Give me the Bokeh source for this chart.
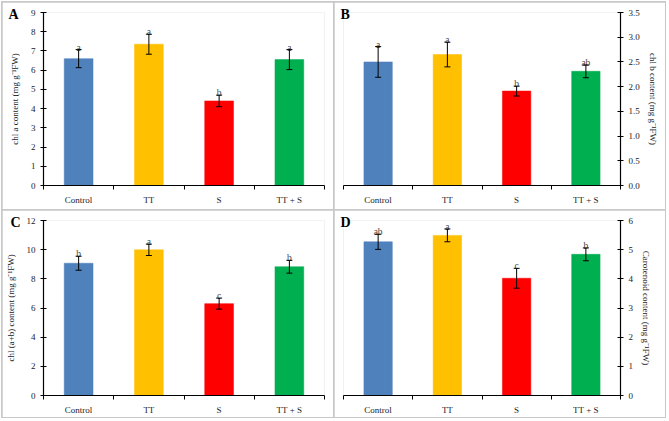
import numpy as np
from bokeh.plotting import figure
from bokeh.layouts import gridplot
from bokeh.models import (Range1d, FixedTicker, Whisker, TeeHead, ColumnDataSource,
                          Title, NumeralTickFormatter)
from bokeh.core.properties import value
from bokeh.embed import file_html
from bokeh.resources import INLINE

# ---------------- data ----------------
categories = ["Control", "TT", "S", "TT + S"]

chl_a = [6.60, 7.35, 4.40, 6.55]
chl_a_err = [0.47, 0.52, 0.30, 0.52]
chl_a_sig = ["a", "a", "b", "a"]

chl_b = [2.50, 2.65, 1.91, 2.31]
chl_b_err = [0.31, 0.25, 0.10, 0.13]
chl_b_sig = ["a", "a", "b", "ab"]

chl_ab = [9.07, 9.99, 6.30, 8.83]
chl_ab_err = [0.48, 0.39, 0.38, 0.44]
chl_ab_sig = ["b", "a", "c", "b"]

carot = [5.27, 5.49, 4.02, 4.84]
carot_err = [0.26, 0.22, 0.34, 0.22]
carot_sig = ["ab", "a", "c", "b"]

FONT = "Liberation Serif"
COLORS = ["#4F81BD", "#FFC000", "#FF0000", "#00B050"]
W, H = 331, 207


def panel(vals, errs, sig, ymax, ystep, ylabel, side, tag, borders, tick_fmt, tag_off):
    left, right, top, bottom = borders
    n = len(categories)
    p = figure(width=W, height=H, output_backend="svg", toolbar_location=None,
               x_range=Range1d(0, n), y_range=Range1d(0, ymax),
               y_axis_location=side,
               min_border_left=left, min_border_right=right,
               min_border_top=top, min_border_bottom=bottom)
    p.outline_line_color = None
    p.grid.visible = False
    p.background_fill_color = "white"
    p.border_fill_color = "white"

    xs = [i + 0.5 for i in range(n)]
    upper = [v + e for v, e in zip(vals, errs)]
    lower = [v - e for v, e in zip(vals, errs)]
    src = ColumnDataSource(dict(x=xs, top=vals, upper=upper, lower=lower,
                                color=COLORS, sig=sig))
    p.vbar(x="x", top="top", width=0.41, bottom=0, fill_color="color",
           line_color="color", line_alpha=0.5, source=src)
    p.add_layout(Whisker(base="x", upper="upper", lower="lower", source=src,
                         line_color="black", line_width=1, level="annotation",
                         upper_head=TeeHead(size=6, line_color="black", line_width=1),
                         lower_head=TeeHead(size=6, line_color="black", line_width=1)))
    p.text(x="x", y="upper", text="sig", source=src, text_font=value(FONT),
           text_font_size="9.5px", text_align="center", text_baseline="alphabetic",
           text_color="#444444", y_offset=-2)

    # x axis: labels at centres, ticks at category boundaries
    xa = p.xaxis[0]
    xa.ticker = FixedTicker(ticks=xs, minor_ticks=list(range(n + 1)))
    xa.major_label_overrides = {x: c for x, c in zip(xs, categories)}
    xa.major_tick_in = 0
    xa.major_tick_out = 0
    xa.minor_tick_in = 0
    xa.minor_tick_out = 4
    xa.minor_tick_line_color = "black"
    xa.axis_line_color = "black"
    xa.axis_line_width = 1.2
    xa.major_label_text_font = FONT
    xa.major_label_text_font_size = "9px"
    xa.major_label_text_color = "#222222"
    xa.major_label_standoff = 5

    ya = p.yaxis[0]
    ya.ticker = FixedTicker(ticks=list(np.arange(0, ymax + ystep / 2, ystep)), minor_ticks=[])
    ya.formatter = NumeralTickFormatter(format=tick_fmt)
    ya.major_tick_in = 3
    ya.major_tick_out = 3
    ya.minor_tick_line_color = None
    ya.axis_line_color = "black"
    ya.axis_line_width = 1.2
    ya.major_tick_line_color = "black"
    ya.major_label_text_font = FONT
    ya.major_label_text_font_size = "9px"
    ya.major_label_text_color = "#222222"
    ya.major_label_standoff = 5
    ya.axis_label = ylabel
    ya.axis_label_text_font = FONT
    ya.axis_label_text_font_size = "9px"
    ya.axis_label_text_font_style = "normal"
    ya.axis_label_text_color = "#222222"
    ya.axis_label_standoff = 8 if side == "left" else 5

    p.add_layout(Title(text=tag, align="left", vertical_align="bottom",
                       offset=tag_off, standoff=-18,
                       text_font=FONT, text_font_style="bold",
                       text_font_size="14px", text_color="black"), "above")
    return p


pA = panel(chl_a, chl_a_err, chl_a_sig, 9, 1, "chl a content (mg g⁻¹FW)", "left", "A",
           (40, 9, 10, 24), "0", -35)
pB = panel(chl_b, chl_b_err, chl_b_sig, 3.5, 0.5, "chl b content (mg g⁻¹FW)", "right", "B",
           (9, 45, 9, 22), "0.0", -3)
pC = panel(chl_ab, chl_ab_err, chl_ab_sig, 12, 2, "chl (a+b) content (mg g⁻¹FW)", "left", "C",
           (38, 9, 10, 22), "0", -33)
pD = panel(carot, carot_err, carot_sig, 6, 1, "Carotenoid content (mg g⁻¹FW)", "right", "D",
           (9, 45, 10, 22), "0", -3)

grid = gridplot([[pA, pB], [pC, pD]], toolbar_location=None)
grid.spacing = 1
grid.styles = {"background-color": "#c8c8c8", "padding": "1px",
               "margin-left": "1px", "margin-top": "1px"}

open("out.html", "w").write(file_html(grid, INLINE))
